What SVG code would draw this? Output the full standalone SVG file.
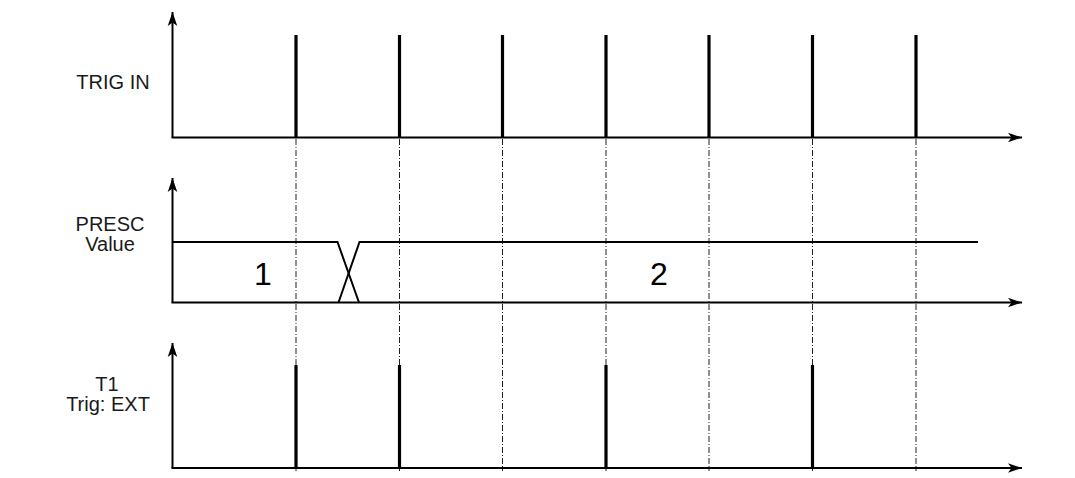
<svg xmlns="http://www.w3.org/2000/svg" width="1075" height="478" viewBox="0 0 1075 478">
<style>
.axis{stroke:#000;stroke-width:2;fill:none}
.sig{stroke:#000;stroke-width:2;fill:none}
.pulse{stroke:#000;stroke-width:3.2;fill:none}
.grid{stroke:#222;stroke-width:1;stroke-dasharray:6 2 1 2;fill:none}
.lbl{font-family:"Liberation Sans",Arial,sans-serif;font-size:20px;fill:#1a1a1a;text-anchor:middle}
.num{font-family:"Liberation Sans",Arial,sans-serif;font-size:32px;fill:#000;text-anchor:middle}
</style>
<defs>
<marker id="arr" markerWidth="15" markerHeight="12" refX="14" refY="6" orient="auto" markerUnits="userSpaceOnUse">
<path d="M0,1.2 L14,6 L0,10.8 L3.5,6 Z" fill="#000"/>
</marker>
</defs>
<rect width="1075" height="478" fill="#fff"/>
<g id="gridlines">
<line class="grid" x1="296" y1="139" x2="296" y2="471"/>
<line class="grid" x1="399.5" y1="139" x2="399.5" y2="471"/>
<line class="grid" x1="502.5" y1="139" x2="502.5" y2="471"/>
<line class="grid" x1="606" y1="139" x2="606" y2="471"/>
<line class="grid" x1="709" y1="139" x2="709" y2="471"/>
<line class="grid" x1="812.5" y1="139" x2="812.5" y2="471"/>
<line class="grid" x1="916" y1="139" x2="916" y2="471"/>
</g>
<g id="trig-in">
<text class="lbl" x="113" y="89">TRIG IN</text>
<line class="axis" x1="172.5" y1="137.5" x2="172.5" y2="12" marker-end="url(#arr)"/>
<line class="axis" x1="171.5" y1="137.5" x2="1022" y2="137.5" marker-end="url(#arr)"/>
<line class="pulse" x1="296" y1="35" x2="296" y2="137.5"/>
<line class="pulse" x1="399.5" y1="35" x2="399.5" y2="137.5"/>
<line class="pulse" x1="502.5" y1="35" x2="502.5" y2="137.5"/>
<line class="pulse" x1="606" y1="35" x2="606" y2="137.5"/>
<line class="pulse" x1="709" y1="35" x2="709" y2="137.5"/>
<line class="pulse" x1="812.5" y1="35" x2="812.5" y2="137.5"/>
<line class="pulse" x1="916" y1="35" x2="916" y2="137.5"/>
</g>
<g id="presc-value">
<text class="lbl" x="110" y="231">PRESC</text>
<text class="lbl" x="110" y="251">Value</text>
<line class="axis" x1="172.5" y1="302.5" x2="172.5" y2="178" marker-end="url(#arr)"/>
<line class="axis" x1="171.5" y1="302.5" x2="1022" y2="302.5" marker-end="url(#arr)"/>
<polyline class="sig" points="172.5,242 337.5,242 359,302.5"/>
<polyline class="sig" points="338.5,302.5 359.5,242 978,242"/>
<text class="num" x="263" y="285">1</text>
<text class="num" x="659" y="285">2</text>
</g>
<g id="t1-trig-ext">
<text class="lbl" x="107" y="391">T1</text>
<text class="lbl" x="108" y="411">Trig: EXT</text>
<line class="axis" x1="172.5" y1="468" x2="172.5" y2="343" marker-end="url(#arr)"/>
<line class="axis" x1="171.5" y1="468" x2="1022" y2="468" marker-end="url(#arr)"/>
<line class="pulse" x1="296" y1="365" x2="296" y2="468"/>
<line class="pulse" x1="399.5" y1="365" x2="399.5" y2="468"/>
<line class="pulse" x1="606" y1="365" x2="606" y2="468"/>
<line class="pulse" x1="812.5" y1="365" x2="812.5" y2="468"/>
</g>
</svg>
